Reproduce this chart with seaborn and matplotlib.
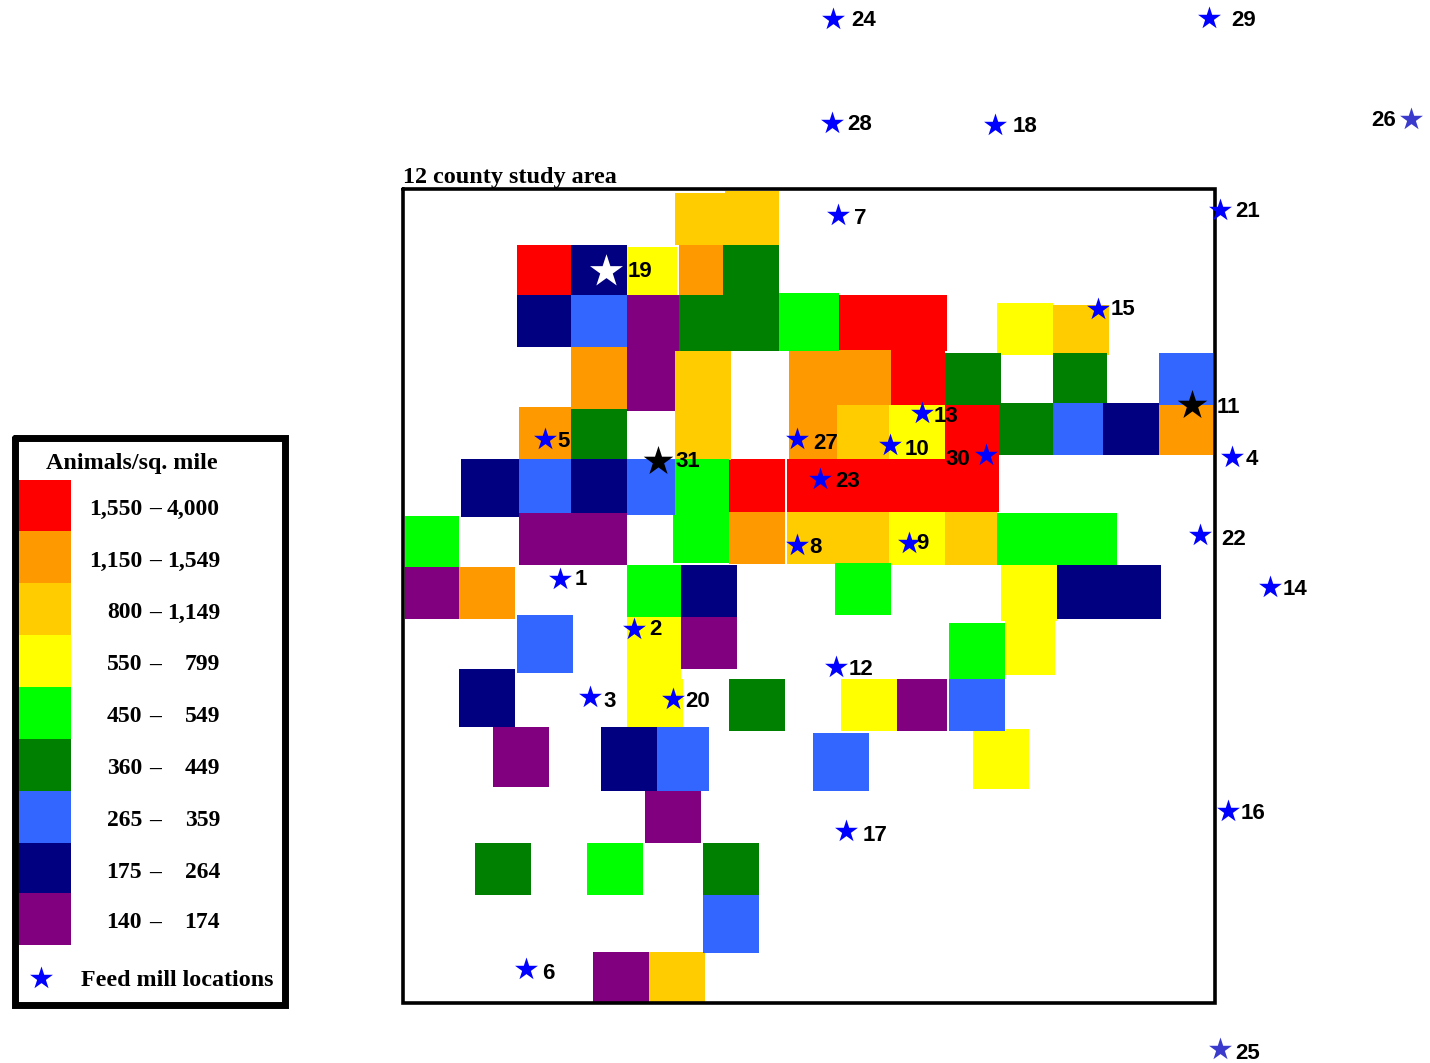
#plot.py - animal density map with feed mill locations

import pandas as pd
import matplotlib.pyplot as plt
import seaborn as sns

#Density classes, highest first
clases_bajo = ["1,550", "1,150", "800", "550", "450", "360", "265", "175", "140"]
clases_alto = ["4,000", "1,549", "1,149", "799", "549", "449", "359", "264", "174"]
colores = ["#FF0000", "#FF9900", "#FFCC00", "#FFFF00", "#00FF00",
           "#008000", "#3366FF", "#000080", "#800080"]

#Cells per class: left, top, right, bottom (pixels)
celdas_rojo = [(517, 245, 571, 295), (839, 295, 947, 351), (891, 351, 945, 405),
               (945, 405, 999, 459), (729, 459, 785, 512), (787, 459, 999, 512)]
celdas_naranja = [(679, 245, 723, 295), (571, 347, 627, 409), (519, 407, 571, 459),
                  (789, 350, 891, 405), (789, 405, 837, 459), (729, 512, 785, 564),
                  (1159, 405, 1213, 455), (459, 567, 515, 619)]
celdas_oro = [(675, 193, 725, 245), (725, 191, 779, 245), (675, 351, 731, 460),
              (837, 405, 889, 459), (787, 512, 889, 564), (945, 512, 997, 565),
              (1053, 305, 1109, 355), (649, 952, 705, 1003)]
celdas_amarillo = [(627, 247, 677, 295), (997, 303, 1053, 355), (889, 405, 945, 459),
                   (889, 512, 945, 565), (1001, 565, 1057, 621), (1005, 621, 1055, 675),
                   (627, 617, 681, 679), (627, 679, 683, 727), (841, 679, 897, 731),
                   (973, 729, 1029, 789)]
celdas_lima = [(779, 293, 839, 351), (405, 516, 459, 567), (675, 459, 729, 515),
               (673, 515, 729, 563), (997, 513, 1117, 565), (835, 563, 891, 615),
               (627, 565, 681, 617), (949, 623, 1005, 679), (587, 843, 643, 895)]
celdas_verde = [(723, 245, 779, 295), (679, 295, 779, 351), (571, 409, 627, 459),
                (945, 353, 1001, 405), (1053, 353, 1107, 403), (999, 403, 1053, 455),
                (729, 679, 785, 731), (475, 843, 531, 895), (703, 843, 759, 895)]
celdas_azul = [(571, 295, 627, 347), (519, 459, 571, 513), (627, 459, 675, 515),
               (1053, 403, 1103, 455), (1159, 353, 1213, 405), (517, 615, 573, 673),
               (657, 727, 709, 791), (813, 733, 869, 791), (949, 679, 1005, 731),
               (703, 895, 759, 953)]
celdas_marino = [(571, 245, 627, 295), (517, 295, 571, 347), (461, 459, 519, 517),
                 (571, 459, 627, 513), (681, 565, 737, 617), (1103, 403, 1159, 455),
                 (1057, 565, 1161, 619), (459, 669, 515, 727), (601, 727, 657, 791)]
celdas_purpura = [(627, 295, 679, 351), (627, 351, 675, 411), (519, 513, 627, 565),
                  (405, 567, 459, 619), (681, 617, 737, 669), (897, 679, 947, 731),
                  (493, 727, 549, 787), (645, 791, 701, 843), (593, 952, 649, 1003)]
celdas = [celdas_rojo, celdas_naranja, celdas_oro, celdas_amarillo, celdas_lima,
          celdas_verde, celdas_azul, celdas_marino, celdas_purpura]

#Feed mills
molino_id = [24, 29, 26, 28, 18, 7, 21, 15, 19, 11, 5, 31, 27, 13, 10, 30,
             4, 23, 8, 9, 22, 1, 14, 2, 12, 3, 20, 16, 17, 6, 25]
molino_x = [833, 1209, 1411, 832, 995, 838, 1220, 1098, 606, 1192, 545, 658, 797, 922, 890, 986,
            1232, 820, 797, 909, 1200, 560, 1270, 634, 836, 590, 673, 1228, 846, 526, 1220]
molino_y = [19, 18, 119, 123, 125, 215, 210, 309, 271, 405, 439, 461, 439, 413, 445, 455,
            457, 479, 545, 543, 535, 579, 587, 629, 667, 697, 699, 811, 831, 969, 1049]
etiqueta_x = [851, 1231, 1371, 847, 1013, 854, 1235, 1111, 628, 1217, 557, 675, 813, 934, 905, 945,
              1246, 835, 809, 916, 1221, 575, 1283, 649, 849, 603, 685, 1241, 863, 542, 1235]
etiqueta_y = [19, 19, 119, 123, 125, 217, 210, 308, 270, 406, 440, 460, 442, 415, 448, 458,
              458, 480, 546, 542, 538, 578, 588, 628, 668, 700, 700, 812, 834, 972, 1052]
molinos_blancos = [19]
molinos_negros = [11, 31]
molinos_claros = [26, 25]

df = pd.DataFrame({"id": molino_id, "x": molino_x, "y": molino_y})

sns.set_style("white")
plt.rcParams["font.family"] = ["Liberation Serif", "DejaVu Sans"]
plt.rcParams["text.color"] = "black"

fig = plt.figure(figsize=(14.3, 10.63), dpi=100)
ax = fig.add_axes([0, 0, 1, 1])
ax.set_xlim(0, 1430)
ax.set_ylim(1063, 0)
ax.axis("off")

#Map cells
for color, lista in zip(colores, celdas):
    for x0, y0, x1, y1 in lista:
        ax.bar(x0, y1 - y0, width=x1 - x0, bottom=y0, align="edge", color=color, linewidth=0)

#Study area frame
ax.plot([403, 1215, 1215, 403, 403], [189, 189, 1003, 1003, 189], color="black", lw=2.6,
        solid_joinstyle="miter", zorder=3)
ax.text(403, 177, "12 county study area", fontsize=17.4, fontweight="bold", va="center")

#Stars
normales = df[~df["id"].isin(molinos_blancos + molinos_negros + molinos_claros)]
sns.scatterplot(data=normales, x="x", y="y", marker="*", s=300, color="#0000FF", linewidth=0,
                legend=False, ax=ax, zorder=4)
sns.scatterplot(data=df[df["id"].isin(molinos_claros)], x="x", y="y", marker="*", s=300,
                color="#3A3ACC", linewidth=0, legend=False, ax=ax, zorder=4)
sns.scatterplot(data=df[df["id"].isin(molinos_negros)], x="x", y="y", marker="*", s=500,
                color="black", linewidth=0, legend=False, ax=ax, zorder=4)
sns.scatterplot(data=df[df["id"].isin(molinos_blancos)], x="x", y="y", marker="*", s=620,
                color="white", linewidth=0, legend=False, ax=ax, zorder=4)
ax.set_xlabel("")
ax.set_ylabel("")

for n, tx, ty in zip(molino_id, etiqueta_x, etiqueta_y):
    ax.text(tx, ty + 1.5, str(n), fontsize=16, fontweight="bold", family="Liberation Sans",
            va="center", ha="left", zorder=5)

#Legend box
ax.plot([15, 285, 285, 15, 15], [438, 438, 1005, 1005, 438], color="black", lw=5,
        solid_joinstyle="miter", zorder=3)
ax.text(132, 463, "Animals/sq. mile", fontsize=17.4, fontweight="bold", ha="center", va="center")

muestra_y = [480, 531, 583, 635, 687, 739, 791, 843, 893, 945]
texto_y = [509, 561, 613, 665, 717, 769, 821, 873, 923]
for i, color in enumerate(colores):
    ax.bar(19, muestra_y[i + 1] - muestra_y[i], width=52, bottom=muestra_y[i], align="edge",
           color=color, linewidth=0)
    ax.text(142, texto_y[i], clases_bajo[i], fontsize=17, fontweight="bold", ha="right", va="center")
    ax.text(155, texto_y[i], "–", fontsize=17, fontweight="bold", ha="center", va="center")
    ax.text(220, texto_y[i], clases_alto[i], fontsize=17, fontweight="bold", ha="right", va="center")

sns.scatterplot(x=[41], y=[978], marker="*", s=300, color="#0000FF", linewidth=0, legend=False,
                ax=ax, zorder=4)
ax.set_xlabel("")
ax.set_ylabel("")
ax.text(81, 981, "Feed mill locations", fontsize=17.3, fontweight="bold", ha="left", va="center")

ax.set_xlim(0, 1430)
ax.set_ylim(1063, 0)
fig.savefig("out.png", dpi=100, facecolor="white")
